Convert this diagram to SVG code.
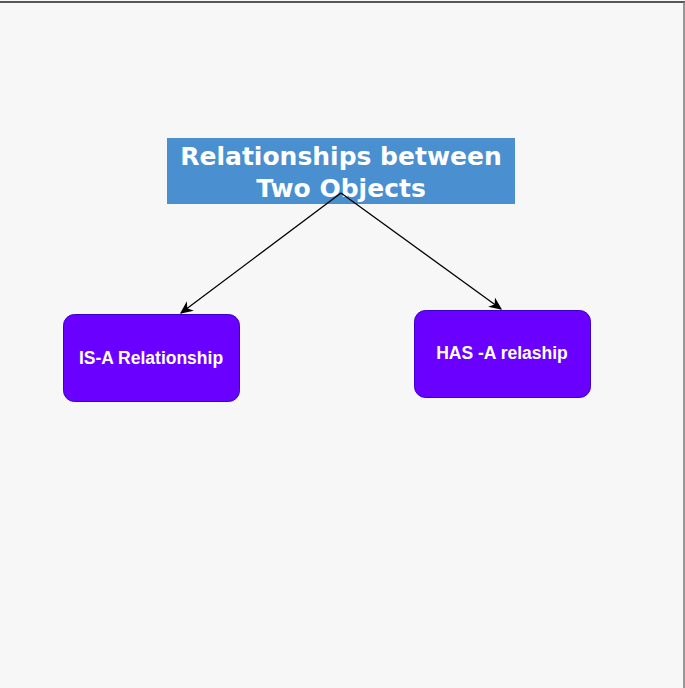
<svg xmlns="http://www.w3.org/2000/svg" width="685" height="688" viewBox="0 0 685 688">
<style>
.node rect{fill:#6a00ff;stroke:#3700cc;stroke-width:1}
.node text{font-family:"Liberation Sans",Arial,sans-serif;font-weight:bold;font-size:17.5px;fill:#fff;text-anchor:middle}
.title text{font-family:"DejaVu Sans",Verdana,sans-serif;font-weight:bold;font-size:25px;fill:#fff;text-anchor:middle}
.edge{stroke:#000;stroke-width:1.3;fill:none;marker-end:url(#arr)}
</style>
<defs>
<marker id="arr" viewBox="0 0 10 10" refX="9" refY="5" markerWidth="13" markerHeight="13" markerUnits="userSpaceOnUse" orient="auto">
<path d="M0,0.5 L10,5 L0,9.5 L3,5 Z" fill="#000"/>
</marker>
</defs>
<rect x="0" y="0" width="685" height="688" fill="#f7f7f7"/>
<line x1="0" y1="2" x2="685" y2="2" stroke="#222" stroke-width="1.5"/>
<line x1="684" y1="2" x2="684" y2="688" stroke="#777" stroke-width="1.5"/>
<g id="title" class="title">
<rect x="167" y="138" width="348" height="66" fill="#4a8fd0"/>
<text x="341" y="165">Relationships between</text>
<text x="341" y="197">Two Objects</text>
</g>
<g id="connectors">
<line class="edge" x1="341" y1="193" x2="181" y2="313"/>
<line class="edge" x1="341" y1="193" x2="501" y2="309"/>
</g>
<g id="isa" class="node">
<rect x="63.5" y="314.5" width="176" height="87" rx="11"/>
<text x="151" y="364">IS-A Relationship</text>
</g>
<g id="hasa" class="node">
<rect x="414.5" y="310.5" width="176" height="87" rx="11"/>
<text x="502" y="359">HAS -A relaship</text>
</g>
</svg>
